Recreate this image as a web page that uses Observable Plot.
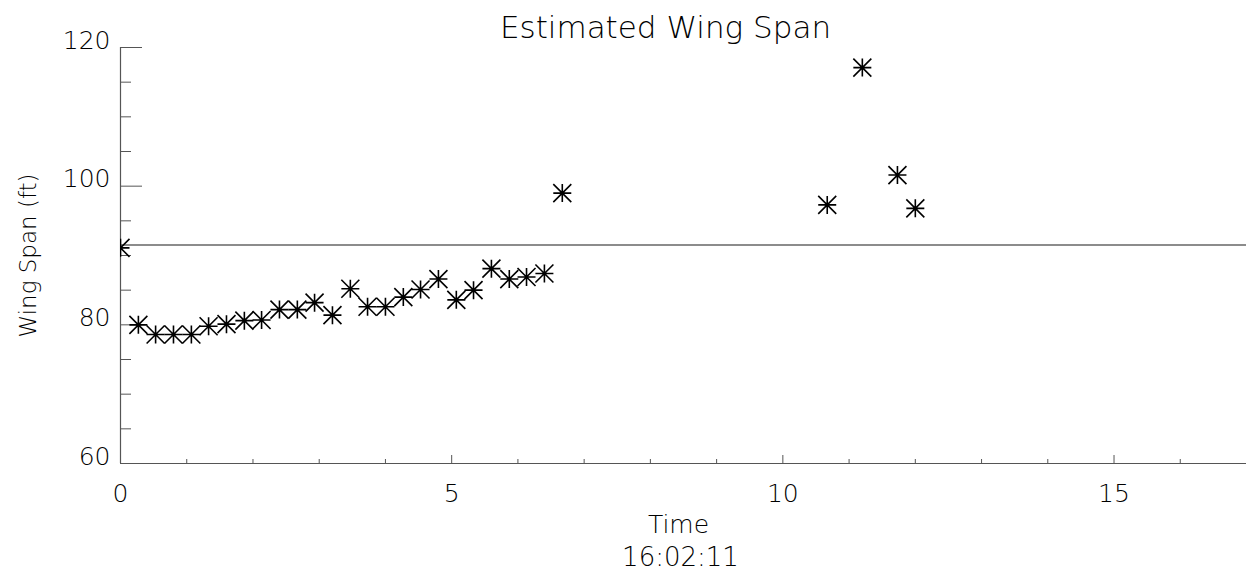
<!DOCTYPE html>
<html>
<head>
<meta charset="utf-8">
<script src="https://cdn.jsdelivr.net/npm/d3@7"></script>
<script src="https://cdn.jsdelivr.net/npm/@observablehq/plot@0.6"></script>
<style>
  body { margin: 0; background: #fff; }
  #chart svg { display: block; }
  #chart svg text { font-weight: 200; }
</style>
</head>
<body>
<div id="chart"></div>
<script>
// Elapsed time (minutes) of each estimate
const times = [0, 0.27, 0.53, 0.80, 1.07, 1.33, 1.60, 1.87, 2.13, 2.40,
               2.67, 2.93, 3.20, 3.47, 3.73, 4.00, 4.27, 4.53, 4.80, 5.07,
               5.33, 5.60, 5.87, 6.13, 6.40, 6.67, 10.67, 11.20, 11.73, 12.00];
// Estimated wing span (ft) at each time
const wingSpan = [91.1, 80.0, 78.6, 78.6, 78.6, 79.8, 80.1, 80.6, 80.7, 82.2,
                  82.2, 83.2, 81.4, 85.2, 82.6, 82.6, 84.0, 85.1, 86.6, 83.6,
                  85.0, 88.1, 86.6, 86.9, 87.4, 99.0, 97.3, 117.1, 101.6, 96.8];
// Reference span drawn as a horizontal line
const referenceSpan = [91.5];

const xMajorTicks = [0, 5, 10, 15];
const xMinorTicks = [1, 2, 3, 4, 6, 7, 8, 9, 11, 12, 13, 14, 16];
const yMajorTicks = [60, 80, 100, 120];
const yMinorTicks = [65, 70, 75, 85, 90, 95, 105, 110, 115];

const titleText = "Estimated Wing Span";
const xLabel = "Time";
const xSubLabel = "16:02:11";
const yLabel = "Wing Span (ft)";

const samples = times.map((t, i) => ({time: t, span: wingSpan[i]}));

// Eight-armed asterisk: horizontal, vertical and both diagonals
const asterisk8 = {
  draw(ctx, size) {
    const r = Math.sqrt(size / Math.PI);
    ctx.moveTo(-r, 0); ctx.lineTo(r, 0);
    ctx.moveTo(0, -r); ctx.lineTo(0, r);
    ctx.moveTo(-r, -r); ctx.lineTo(r, r);
    ctx.moveTo(-r, r); ctx.lineTo(r, -r);
  }
};

const axisColor = "#555";
const textColor = "#000";
const font = "DejaVu Sans, Liberation Sans, sans-serif";

const chart = Plot.plot({
  width: 1246,
  height: 575,
  marginLeft: 120,
  marginRight: 0,
  marginTop: 47,
  marginBottom: 112,
  style: {fontFamily: font, fontSize: "25px", color: textColor, background: "#fff"},
  x: {domain: [0, 17]},
  y: {domain: [60, 120]},
  marks: [
    // axis lines
    Plot.ruleX([0], {stroke: axisColor, strokeWidth: 1.2}),
    Plot.ruleY([60], {stroke: axisColor, strokeWidth: 1.2}),
    // inward tick marks
    Plot.axisX(xMajorTicks, {tickSize: -8, fill: "none", label: null, stroke: axisColor}),
    Plot.axisX(xMinorTicks, {tickSize: -4, fill: "none", label: null, stroke: axisColor}),
    Plot.axisY(yMajorTicks, {tickSize: -22, fill: "none", label: null, stroke: axisColor}),
    Plot.axisY(yMinorTicks, {tickSize: -11, fill: "none", label: null, stroke: axisColor}),
    // tick labels
    Plot.text(xMajorTicks, {x: d => d, text: d => String(d), frameAnchor: "bottom", dy: 30,
      lineAnchor: "middle", fontSize: 25, fill: textColor}),
    Plot.text(yMajorTicks, {y: d => d, text: d => String(d), frameAnchor: "left", dx: -10, dy: -7,
      textAnchor: "end", lineAnchor: "middle", fontSize: 25, fill: textColor}),
    // reference line
    Plot.ruleY(referenceSpan, {stroke: "#666", strokeWidth: 1.5}),
    // estimates
    Plot.dot(samples, {x: "time", y: "span", symbol: asterisk8, r: 9,
      stroke: "#000", strokeWidth: 1.6, fill: "none", clip: true}),
    // titles
    Plot.text([titleText], {frameAnchor: "top", dx: -18, dy: -19, lineAnchor: "middle",
      fontSize: 31, fill: textColor, text: d => d}),
    Plot.text([xLabel], {frameAnchor: "bottom", dx: -5, dy: 61, lineAnchor: "middle",
      fontSize: 25, fill: textColor, text: d => d}),
    Plot.text([xSubLabel], {frameAnchor: "bottom", dx: -3, dy: 94, lineAnchor: "middle",
      fontSize: 26, fill: textColor, text: d => d}),
    Plot.text([yLabel], {frameAnchor: "left", dx: -92, rotate: -90, lineAnchor: "middle",
      textAnchor: "middle", fontSize: 23, fill: textColor, text: d => d})
  ]
});

document.getElementById("chart").append(chart);
</script>
</body>
</html>
